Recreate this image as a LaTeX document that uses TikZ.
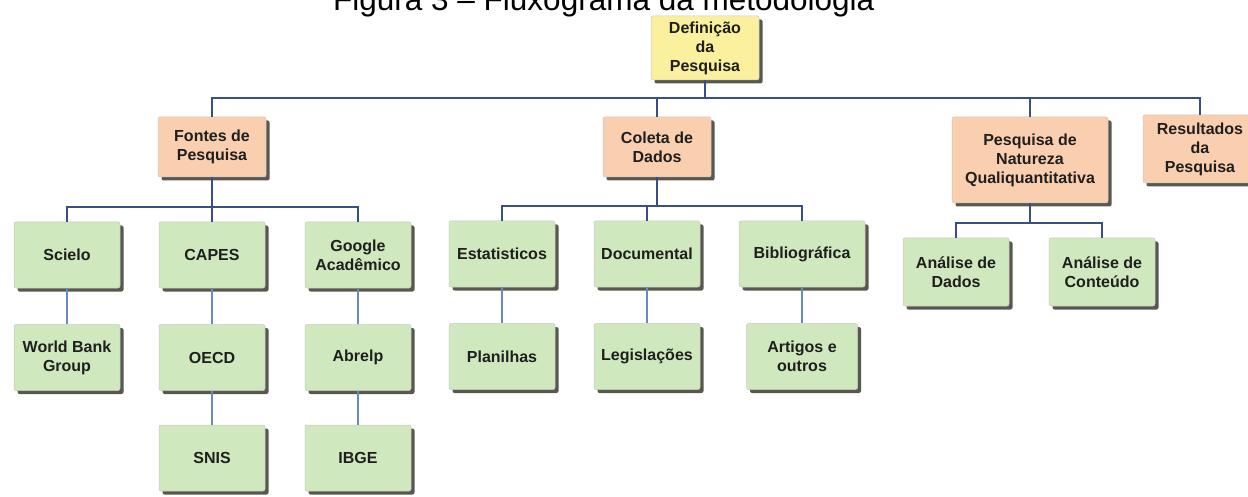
\documentclass[tikz,border=0pt]{standalone}
\usepackage{fontspec}
\setmainfont{Liberation Sans}
\usetikzlibrary{positioning,shadows}

\definecolor{boxgreen}{HTML}{CFE8BD}
\definecolor{boxpeach}{HTML}{F9CFB0}
\definecolor{boxyellow}{HTML}{FBF09E}
\definecolor{linkblue}{HTML}{3A4E86}
\definecolor{stemblue}{HTML}{6C88C2}
\definecolor{shadowgray}{HTML}{3B3B33}

\begin{document}
\begin{tikzpicture}[x=1pt,y=1pt,
    box/.style={draw=black!22, line width=0.5pt, rounded corners=2pt, align=center,
        font=\fontsize{16}{19}\selectfont\bfseries, text=black!88, inner sep=2pt,
        minimum width=106pt, minimum height=66pt,
        drop shadow={shadow xshift=3.5pt, shadow yshift=-3.5pt, fill=shadowgray, opacity=.85}},
    leaf/.style={box, fill=boxgreen},
    topic/.style={box, fill=boxpeach, minimum width=108pt, minimum height=60pt},
    rootbox/.style={box, fill=boxyellow, minimum width=108pt, minimum height=64pt},
    link/.style={draw=linkblue, line width=2pt},
    stem/.style={draw=stemblue, line width=1.6pt},
    every node/.style={node distance=36pt}
    ]
    \useasboundingbox (0,0) rectangle (1248,-497);
    
    % caption, cut at the top edge
    \node[font=\fontsize{31.5}{36}\selectfont, anchor=base west, inner sep=0pt] (caption) at (333,-11) {Figura 3 – Fluxograma da metodologia};
    
    \node[rootbox] (def) at (705,-48) {Definição\\da\\Pesquisa};
    
    % second level
    \node[topic] (fontes) at (212,-147) {Fontes de\\Pesquisa};
    \node[topic] (coleta) at (657,-147) {Coleta de\\Dados};
    \node[topic, minimum width=156pt, minimum height=86pt] (natureza) at (1030,-160) {Pesquisa de\\Natureza\\Qualiquantitativa};
    \node[topic, minimum width=114pt, minimum height=68pt] (result) at (1200,-149) {Resultados\\da\\Pesquisa};
    
    % sources
    \node[leaf] (scielo) at (67,-255) {Scielo};
    \node[leaf] (capes) at (212,-255) {CAPES};
    \node[leaf] (google) at (358,-255) {Google\\Acadêmico};
    \node[leaf, below=of scielo] (wbg) {World Bank\\Group};
    \node[leaf, below=of capes] (oecd) {OECD};
    \node[leaf, below=of google] (abrelp) {Abrelp};
    \node[leaf, below=34pt of oecd] (snis) {SNIS};
    \node[leaf, below=34pt of abrelp] (ibge) {IBGE};
    
    % data collection
    \node[leaf] (estat) at (502,-254) {Estatisticos};
    \node[leaf] (docum) at (647,-254) {Documental};
    \node[leaf, minimum width=126pt] (biblio) at (802,-254) {Bibliográfica};
    \node[leaf, below=of estat] (planil) {Planilhas};
    \node[leaf, below=of docum] (legis) {Legislações};
    \node[leaf, minimum width=111pt, below=of biblio] (artigos) {Artigos e\\outros};
    
    % analysis
    \node[leaf, minimum height=68pt] (adados) at (956,-272) {Análise de\\Dados};
    \node[leaf, minimum height=68pt] (aconteudo) at (1102,-272) {Análise de\\Conteúdo};
    
    % buses
    \foreach \c in {fontes, coleta, natureza, result}
    \draw[link] (def.south) -- ++(0,-18) -| (\c.north);
    \foreach \c in {scielo, capes, google}
    \draw[link] (fontes.south) -- ++(0,-30) -| (\c.north);
    \foreach \c in {estat, docum, biblio}
    \draw[link] (coleta.south) -- ++(0,-29) -| (\c.north);
    \foreach \c in {adados, aconteudo}
    \draw[link] (natureza.south) -- ++(0,-20) -| (\c.north);
    
    % straight drops
    \foreach \a/\b in {scielo/wbg, capes/oecd, oecd/snis, google/abrelp, abrelp/ibge, estat/planil, docum/legis, biblio/artigos}
    \draw[stem] (\a.south) -- (\b.north);
    
\end{tikzpicture}
\end{document}
